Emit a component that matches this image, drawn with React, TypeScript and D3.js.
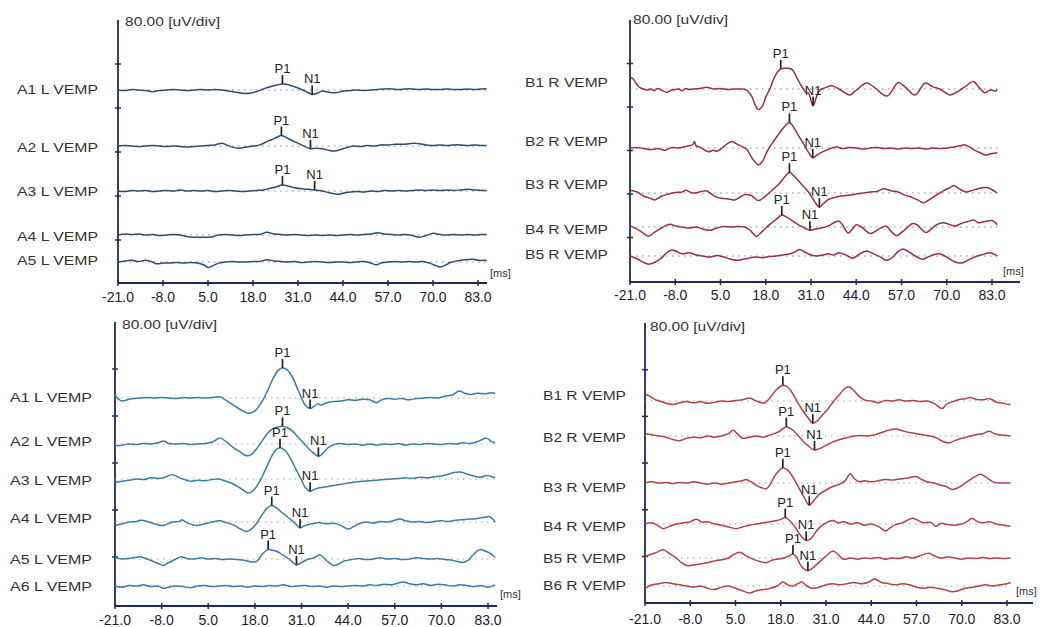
import React from 'react';
import * as d3 from 'd3';

// time axis ticks (ms)
const xTicks = [-21, -8, 5, 18, 31, 44, 57, 70, 83];
const scaleText = '80.00 [uV/div]';

// ---- top left: L VEMP, 5 runs. [ms, uV]
const tlNames = ['A1 L VEMP', 'A2 L VEMP', 'A3 L VEMP', 'A4 L VEMP', 'A5 L VEMP'];
const tlA1 = [[-21,0],[-19,-1],[-17,1],[-15,0],[-13,-1],[-11,-3],[-9,-1],[-7,0],[-5,1],[-3,0],[-1,-1],[1,0],[3,1],[5,0],[7,1],[9,0],[11,-2],[13,-4],[15,-6],[17,-6],[19,-3],[21,2],[23,6],[25,9],[26.5,11],[28,10],[30,6],[32,1],[34,-5],[35.1,-8],[36.5,-6],[38,-2],[40,-4],[42,-5],[44,-2],[46,-1],[48,0],[50,-1],[52,0],[54,1],[56,2],[58,2],[60,1],[62,2],[64,2],[66,1],[68,2],[70,1],[72,1],[74,2],[76,1],[78,1],[80,2],[82,1],[84,2],[85.5,2]];
const tlA2 = [[-21,0],[-19,1],[-17,0],[-15,-1],[-13,0],[-11,1],[-9,0],[-7,-1],[-5,0],[-3,-1],[-1,-2],[1,-1],[3,0],[5,1],[7,2],[9,5],[10,3],[12,-2],[14,-4],[16,-2],[18,0],[20,2],[22,8],[24,13],[26.2,19],[28,14],[30,8],[32,2],[34.6,-5],[36,-4],[38,-5],[40,-8],[41.6,-9],[43,-7],[45,-3],[47,0],[49,-1],[51,1],[53,0],[55,2],[57,2],[59,3],[61,3],[63,4],[64.5,5],[66,4],[68,2],[70,1],[72,2],[74,1],[76,2],[78,2],[80,1],[82,2],[84,1],[85.5,1]];
const tlA3 = [[-21,0],[-19,-1],[-17,1],[-15,0],[-13,1],[-11,-1],[-9,0],[-7,1],[-5,0],[-3,2],[-1,0],[1,1],[3,0],[5,1],[7,-1],[9,0],[11,1],[13,0],[15,-1],[17,0],[19,1],[21,2],[23,5],[24.5,7],[26.5,11],[28,9],[30,6],[32,4],[34,3],[35.8,2],[38,0],[40,-3],[42.6,-6],[44,-4],[46,-2],[48,-1],[50,-2],[52,0],[54,-1],[56,1],[58,0],[60,1],[62,0],[64,1],[66,2],[68,1],[70,2],[72,1],[74,2],[76,1],[78,2],[80,3],[82,2],[84,1],[85.5,1]];
const tlA4 = [[-21,0],[-19,2],[-17,1],[-15,2],[-13,0],[-11,1],[-9,-1],[-7,0],[-5,1],[-3,0],[-1,-3],[1,-4],[3,-4],[5,-4],[6.5,-3],[8,0],[10,1],[12,0],[14,-1],[16,0],[18,1],[20,1],[22,5],[24,2],[26,1],[28,0],[30,1],[32,0],[34,-1],[36,0],[38,-1],[40,0],[42,-1],[44,0],[46,1],[48,0],[50,1],[52,2],[54,4],[56,2],[58,1],[60,0],[62,1],[64,-1],[66,-4],[68,-1],[70,3],[72,1],[74,0],[76,1],[78,0],[80,1],[82,0],[84,1],[85.5,1]];
const tlA5 = [[-21,0],[-19,2],[-17,3],[-15,1],[-13,3],[-11,0],[-10,-3],[-8,-2],[-6,-2],[-4,-1],[-2,-2],[0,-1],[2,-2],[4,-6],[5,-10],[6,-8],[8,-2],[10,0],[12,1],[14,0],[16,0],[18,1],[20,1],[22,4],[24,2],[26,1],[28,0],[30,1],[32,-1],[34,0],[36,1],[38,0],[40,-1],[42,0],[44,0],[46,-1],[48,0],[50,1],[52,-2],[53.7,-5],[55,-2],[57,0],[59,1],[61,0],[63,1],[65,0],[67,1],[69,-2],[71,-7],[72,-9],[73.5,-6],[75,-1],[77,2],[79,4],[81.5,5],[83,3],[85.5,3]];
const tlP1 = [26.5, 26.2, 26.5, null, null];
const tlN1 = [35.1, 34.6, 35.8, null, null];

// ---- top right: R VEMP, 5 runs
const trNames = ['B1 R VEMP', 'B2 R VEMP', 'B3 R VEMP', 'B4 R VEMP', 'B5 R VEMP'];
const trB1 = [[-21,22],[-20,18],[-19,8],[-18,2],[-17,0],[-16,-2],[-15,0],[-14,-3],[-13,1],[-12,-2],[-10.5,-6],[-9,-2],[-8,-1],[-7,0],[-6,-3],[-5,1],[-4,-1],[-3,0],[-1,1],[1,3],[2,2],[3,0],[5,1],[7,-1],[9,0],[11,0],[12.5,-2],[14,-14],[15,-30],[15.9,-38],[17,-32],[18,-15],[19.2,0],[20.5,22],[22.3,37],[24,38],[25.5,36],[27,20],[28.5,3],[29.5,-6],[30.3,-8],[31.6,-31],[32.5,-16],[33.5,-2],[35,2],[37,6],[39,0],[41,-8],[42.2,-11],[44,-2],[47,11],[49,4],[52.8,-13],[56.1,12],[58,4],[60.9,-11],[63.8,11],[66,4],[68,0],[71,-11],[73,-5],[75,3],[77.7,14],[79,5],[81,-7],[82,-3],[83,-2],[84,-4],[84.5,-1]];
const trB2 = [[-21,0],[-19,1],[-17,-1],[-15,-3],[-13,-1],[-11,-4],[-9,1],[-7,0],[-5,3],[-3,6],[-2.5,12],[-2,4],[-1,2],[0,-2],[1.5,-7],[3,-4],[4,-6],[5.5,0],[7,8],[8.2,12],[9.5,8],[11,3],[12.5,-2],[14,-18],[15.9,-31],[17,-25],[18.5,-5],[20,10],[22,28],[23.5,40],[24.8,47],[26,38],[27.5,22],[29,6],[30.3,-8],[31.5,-18],[32.5,-14],[34,-8],[35.5,-4],[37,0],[38.5,2],[40,-1],[42,1],[44,0],[46,-2],[48,0],[50,1],[52,-1],[54,0],[56,-2],[58,0],[60,-1],[62,0],[64,-2],[66,0],[68,-1],[70,0],[72,2],[74,4],[75,6],[76.5,2],[78,-4],[80,-10],[81,-13],[82.5,-11],[84,-9],[84.5,-9]];
const trB3 = [[-21,5],[-19,2],[-17,-6],[-15,-10],[-14,-13],[-12,-6],[-10,-2],[-8,1],[-6,2],[-5,5],[-3,0],[-1,2],[1,4],[2,0],[4,-8],[6,-10],[8,-12],[9,-13],[10.5,-8],[12,-3],[14,-5],[15.9,-14],[17.5,-8],[20,6],[22,18],[23.5,30],[24.8,38],[26,32],[28,18],[30,4],[31.5,-10],[33.4,-26],[34.5,-20],[36,-12],[38,-8],[40,-5],[42,-4],[44,-2],[46,0],[48,2],[50,3],[51.8,8],[54,4],[56,2],[58,-4],[60,-8],[62,-14],[63.3,-18],[65,-12],[67,-4],[69,4],[71,10],[72,14],[73.5,8],[75.5,2],[77,4],[79,8],[81.5,10],[83,6],[84.5,0]];
const trB4 = [[-21,2],[-19,-4],[-17,-12],[-15.7,-17],[-14,-10],[-12,-2],[-9.5,5],[-8,2],[-6,0],[-4,-2],[-2,0],[0,-4],[2,-6],[4,-2],[6,1],[8,0],[10,1],[12,0],[13.5,-6],[15.4,-17],[17,-8],[19,4],[21,14],[22.6,22],[24,18],[26,10],[28,2],[30.7,-6],[32,-4],[34,-2],[36,2],[38.9,11],[40,4],[41.7,-11],[43,-3],[44,4],[45.5,0],[48,-12],[49.5,-8],[51,-2],[52.5,2],[54,-8],[55.6,-16],[57,-10],[58.5,-2],[60,6],[61.5,4],[64,-10],[65.5,-4],[67,4],[69,8],[71,4],[72.5,2],[74,6],[76,10],[77.7,13],[79,8],[81,10],[83,12],[84,8],[84.5,4]];
const trB5 = [[-21,0],[-19,-5],[-17,-12],[-15.7,-15],[-14,-12],[-12,-4],[-10.5,6],[-9,11],[-7.5,8],[-6,4],[-4,6],[-2,2],[0,0],[2,-2],[4,1],[6,-2],[8,-6],[9.7,-8],[11.5,-6],[13,-4],[15,-2],[17,-3],[19,-1],[21,0],[23,2],[25,4],[26.5,8],[27.8,12],[29.5,6],[31,2],[32.6,0],[34.5,2],[36,4],[37.5,2],[39,6],[41,2],[43,-4],[45,4],[47,9],[49,4],[51,-2],[52.7,-8],[54.5,-2],[56,8],[57.5,13],[59,8],[61,0],[63,-6],[64.5,-2],[66,2],[68,4],[70,-2],[72,-10],[74.3,-13],[76,-8],[78,-2],[80,2],[82.5,6],[84,2],[84.5,0]];
const trP1 = [22.3, 24.8, 24.8, 22.6, null];
const trN1 = [31.6, 31.5, 33.4, 30.7, null];

// ---- bottom left: L VEMP, 6 runs
const blNames = ['A1 L VEMP', 'A2 L VEMP', 'A3 L VEMP', 'A4 L VEMP', 'A5 L VEMP', 'A6 L VEMP'];
const blA1 = [[-21,5],[-20,-2],[-19,-5],[-17.5,-3],[-16,-1],[-14,0],[-12,1],[-10,0],[-8,1],[-6,0],[-4,-1],[-2,1],[0,0],[2,1],[4,0],[6,1],[8,2],[8.7,1],[10,-4],[12,-12],[14,-20],[16.2,-26],[18,-22],[20,-6],[21.5,12],[23,32],[24.5,47],[25.7,51],[27,48],[28.5,35],[30,14],[31,0],[32,-12],[33.4,-18],[34.5,-14],[35.5,-10],[36.5,-12],[38,-8],[40,-6],[42,-5],[44,-3],[46,-4],[48,-2],[50,-3],[52,-8],[53,-4],[55,-1],[57,-2],[59,-1],[61,-3],[63,-1],[65,0],[67,1],[69,0],[71,3],[73,5],[75,12],[76.5,8],[78,6],[80,8],[82,7],[84,9],[85,8]];
const blA2 = [[-21,-3],[-19,-2],[-17,0],[-15,-1],[-13,1],[-11,0],[-9,2],[-7.5,5],[-6,1],[-4,0],[-2,1],[0,-1],[2,0],[4,1],[6,3],[8.3,10],[10,4],[12,-6],[14,-14],[15.7,-20],[17,-18],[18.5,-8],[20,5],[21.5,18],[23,26],[24.5,29],[25.7,30],[27,28],[28.5,22],[30,12],[31.5,2],[33,-8],[34.5,-16],[35.7,-21],[37,-16],[38.5,-6],[40,-1],[42,1],[44,-1],[46,0],[48,-2],[50,0],[52,-2],[54,0],[56,-1],[58,1],[60,-2],[62,0],[64,-1],[66,1],[68,0],[70,-1],[72,1],[74,0],[76,2],[78,1],[80,4],[82.6,10],[84,4],[85,2]];
const blA3 = [[-21,-6],[-19,-4],[-17,-2],[-15,0],[-13,-1],[-11,2],[-9,1],[-7,3],[-5.5,7],[-4.7,7],[-3,2],[-1,-2],[0,-4],[2,-2],[4,-3],[6,-1],[8,0],[9,-2],[11,-6],[13,-12],[15,-20],[16.2,-24],[17.5,-20],[19,-8],[20.5,10],[22,30],[23.5,47],[25,53],[26.5,48],[28,34],[29.5,16],[31,-2],[32,-14],[33.4,-21],[34.5,-18],[36,-15],[38,-13],[40,-11],[42,-9],[44,-7],[46,-5],[48,-4],[50,-3],[52,-2],[54,-1],[56,0],[58,1],[60,2],[62,1],[64,3],[66,2],[68,4],[70,5],[72,8],[73.5,11],[75.2,12],[77,9],[79,5],[81,3],[82.5,6],[83.5,5],[85,2]];
const blA4 = [[-21,-6],[-19,-3],[-17,0],[-15,1],[-14,3],[-12,1],[-10,-3],[-8,-6],[-7,-5],[-5,0],[-3,1],[-2.4,4],[-1,-1],[1,-5],[2,-6],[4,-3],[6,0],[8.3,2],[10,-1],[12,-5],[14,-12],[15.7,-16],[17,-12],[18.5,-2],[20,12],[21.5,24],[22.7,28],[24,24],[26,14],[28,4],[29.5,-4],[30.6,-10],[32,-6],[34,-3],[36,-1],[38,-3],[40,-2],[42,-6],[44,-12],[45.5,-8],[47,-3],[49,0],[51,-2],[53,1],[55,0],[57,3],[58.5,5],[60,2],[62,0],[64,1],[66,-1],[68,1],[70,2],[72,1],[74,3],[76,4],[78,5],[80,6],[82,8],[83.5,9],[85,0]];
const blA5 = [[-21,2],[-19,0],[-17,1],[-15,3],[-14,4],[-12,0],[-10,-5],[-8,-10],[-7.5,-11],[-6,-6],[-4,0],[-2.5,4],[-1,1],[1,0],[3,2],[5,0],[7,1],[9,-1],[11,0],[13,-1],[15,-2],[17,-5],[18.5,-4],[20,8],[21.7,16],[23,15],[24.5,12],[26,6],[27.5,0],[29.6,-10],[31,-6],[33,0],[34.5,2],[36.2,7],[38,-3],[40,-11],[41.5,-8],[43,-3],[45,-1],[47,1],[49,-1],[51,0],[53,2],[55,0],[57,1],[59,-1],[61,0],[63,2],[65,1],[67,0],[69,1],[71,-1],[73,-2],[75,-5],[76,-6],[77.5,-2],[79,8],[80.8,16],[82,14],[83.5,10],[85,3]];
const blA6 = [[-21,0],[-19,-2],[-17,1],[-15,0],[-13,2],[-11,-1],[-9,0],[-7.5,-4],[-6,-2],[-4,0],[-2,-1],[0,-3],[2,0],[4,1],[6,-1],[8,0],[10,1],[12,-1],[14,0],[16,-2],[18,0],[20,-1],[22,1],[24,0],[26,2],[28,-1],[30,0],[32,1],[34,-1],[36,0],[38,-2],[40,0],[42,-1],[44,0],[46,1],[48,0],[50,2],[52,1],[54,3],[56,2],[58,5],[59.4,7],[61,4],[63,2],[65,4],[67,1],[69,3],[71,2],[73,0],[75,2],[77,1],[79,-1],[81,1],[83,-2],[85,2]];
const blP1 = [25.7, 25.7, 25.0, 22.7, 21.7, null];
const blN1 = [33.4, 35.7, 33.4, 30.6, 29.6, null];

// ---- bottom right: R VEMP, 6 runs
const brNames = ['B1 R VEMP', 'B2 R VEMP', 'B3 R VEMP', 'B4 R VEMP', 'B5 R VEMP', 'B6 R VEMP'];
const brB1 = [[-21,12],[-19.5,8],[-18,2],[-16.7,0],[-15,-4],[-13,-6],[-11,-3],[-9,-1],[-7,-3],[-5,-1],[-3,-4],[-1,-2],[1,0],[3,-1],[5,1],[7,2],[9,5],[11,0],[12.5,-3],[13.5,-3],[15,6],[16.5,18],[18.6,27],[20,24],[21.5,12],[23,-4],[24.5,-18],[26,-30],[27.2,-38],[28.5,-34],[30,-24],[31.5,-14],[33,-2],[35,12],[36.5,22],[37.7,24],[39,18],[40.5,8],[42,2],[44,0],[46,-3],[48,1],[50,0],[52,2],[54,0],[56,1],[58,-1],[60,0],[62,-4],[64.4,-13],[65.5,-6],[67,-2],[69,2],[71,4],[72.5,6],[74,3],[76,2],[78,4],[80,-2],[82,-4],[83.5,-6],[84,-5]];
const brB2 = [[-21,4],[-19,2],[-17,0],[-15,-2],[-13,-6],[-11,-8],[-9,-4],[-7,-2],[-5,-3],[-3,0],[-1,-2],[1,0],[3,4],[4.3,10],[5.5,4],[7,-4],[9,-2],[11,0],[13,-2],[15,2],[17,6],[18.5,12],[19.6,16],[21,12],[22.5,4],[24,-6],[25.5,-15],[27.7,-24],[29,-22],[31,-16],[33,-10],[35,-6],[37,-3],[39,0],[41,1],[43,0],[45,2],[47,6],[49,10],[51,12],[53,9],[55,6],[57,4],[59,2],[61,0],[63,-4],[64.5,-9],[66.3,-12],[68,-8],[70,-4],[72,-1],[74,2],[76,4],[77.8,8],[79.5,4],[81,2],[83,1],[84,0]];
const brB3 = [[-21,0],[-19,2],[-17,0],[-15,1],[-13,-1],[-11,1],[-9,0],[-7,2],[-5,0],[-3,-2],[-1,0],[1,-2],[3,0],[5,2],[7,4],[8,6],[9.5,2],[11,-4],[12.5,-8],[13.8,-10],[15,-2],[16.5,14],[18.6,26],[20,22],[21.5,10],[23,-6],[24.5,-22],[26.2,-38],[27.5,-30],[29,-20],[31,-12],[33,-6],[35,-2],[36.5,4],[38,16],[39,8],[40.5,2],[42,4],[44,2],[46,4],[48,6],[50,5],[52,7],[54,8],[56.8,11],[58.5,6],[60,2],[62,0],[64,-4],[65.5,-6],[67.3,-11],[69,-8],[71,0],[73,8],[75.4,15],[77,10],[79,2],[81,0],[83,0],[84,0]];
const brB4 = [[-21,0],[-19,2],[-17,-4],[-15.8,-8],[-14,-4],[-12,0],[-10,2],[-8,4],[-6.2,8],[-4.5,3],[-3,4],[-1,0],[1,-2],[3,-5],[5.2,-8],[7,-5],[9,-2],[11,0],[13,2],[15,4],[17,6],[18,8],[19.3,11],[20.5,6],[22,-4],[23.5,-18],[25.3,-28],[26.5,-26],[28,-14],[29.5,-4],[31,2],[33,6],[34.5,2],[36,4],[38,0],[40,2],[42,-2],[44,0],[46,-4],[48.2,-12],[49.5,-6],[51,-1],[53,2],[55.8,10],[57.5,6],[59,2],[61,3],[62.5,-4],[64,1],[66,-1],[68,-2],[70,0],[71.5,4],[73,10],[74.5,4],[76,2],[78,4],[80,0],[82,-2],[84,-4]];
const brB5 = [[-21,2],[-19.5,6],[-17.5,10],[-15.8,14],[-14,8],[-12,0],[-10.5,-8],[-9,-13],[-7,-12],[-5,-10],[-3,-8],[-1,-5],[1,-3],[3,0],[4.5,6],[6.2,10],[8,4],[10,-2],[12,-6],[13.8,-8],[15.5,-4],[17,-2],[19,0],[20.5,4],[21.5,7],[22.5,2],[23.5,-10],[24.5,-18],[25.8,-22],[27,-18],[28.5,-10],[30,-2],[31.5,6],[33,12],[34.5,6],[36,-2],[38,0],[40,-2],[42,0],[44,-1],[46,1],[48,-2],[50,0],[52,-1],[54,2],[56,0],[58,4],[60.6,8],[62,4],[64,0],[66,2],[68,0],[70,-2],[72,0],[74,-1],[76,1],[78,-1],[80,0],[82,-1],[84,0]];
const brB6 = [[-21,-4],[-19,2],[-17,4],[-15,6],[-13,4],[-11,2],[-9,0],[-7,-2],[-5,0],[-3,-4],[-1,-6],[1,-2],[3,0],[5,-4],[7,-8],[9,-12],[11,-8],[13,-6],[15,-4],[17,0],[18.6,7],[20,2],[21.5,0],[23,4],[24,7],[25.5,0],[27,-4],[29,-2],[31,2],[33,4],[35,2],[37,4],[39,6],[41,4],[43,6],[45,12],[47,6],[49,4],[51,2],[53,4],[55,2],[57,-2],[59,-4],[61,-2],[63,-4],[65,-6],[67.3,-10],[69,-8],[71,-4],[73,-2],[75,0],[77,2],[79,0],[81,2],[83,4],[84,6]];
const brP1 = [18.6, 19.6, 18.6, 19.3, 21.5, null];
const brN1 = [27.2, 27.7, 26.2, 25.3, 25.8, null];

// layout for the four recordings
const panels = [
  {
    traces: [tlA1, tlA2, tlA3, tlA4, tlA5], names: tlNames, p1: tlP1, n1: tlN1,
    color: '#2c4d73', dots: '#7d8590', x0: 118, x83: 478, axisEnd: 487, top: 20, axisY: 283, div: 44,
    baselines: [90, 146, 191, 235, 262], labelYs: [90, 148, 192, 237, 261],
    labelLeft: 17, labelRight: 98, tickLabelBase: 302, msX: 490, msY: 273, scaleX: 125, scaleY: 22,
  },
  {
    traces: [trB1, trB2, trB3, trB4, trB5], names: trNames, p1: trP1, n1: trN1,
    color: '#9a2f40', dots: '#808080', x0: 630, x83: 992, axisEnd: 1020, top: 20, axisY: 282, div: 43.5,
    baselines: [89, 148, 193, 227, 256], labelYs: [83, 142, 185, 230, 255],
    labelLeft: 525, labelRight: 608, tickLabelBase: 300, msX: 1003, msY: 271, scaleX: 633, scaleY: 20,
  },
  {
    traces: [blA1, blA2, blA3, blA4, blA5, blA6], names: blNames, p1: blP1, n1: blN1,
    color: '#3a7ca6', dots: '#a3a37a', x0: 115, x83: 488, axisEnd: 497, top: 322, axisY: 606, div: 47,
    baselines: [398, 444, 479, 522, 559, 586], labelYs: [398, 442, 481, 519, 560, 587],
    labelLeft: 10, labelRight: 92, tickLabelBase: 625, msX: 500, msY: 594, scaleX: 122, scaleY: 325,
  },
  {
    traces: [brB1, brB2, brB3, brB4, brB5, brB6], names: brNames, p1: brP1, n1: brN1,
    color: '#b3404b', dots: '#a3a37a', x0: 645, x83: 1007, axisEnd: 1033, top: 323, axisY: 603, div: 46.7,
    baselines: [401, 436, 483, 524, 558, 586], labelYs: [396, 438, 488, 527, 559, 586],
    labelLeft: 543, labelRight: 626, tickLabelBase: 624, msX: 1016, msY: 591, scaleX: 650, scaleY: 327,
  },
];

const axisColor = '#1f2b57';
const font = 'Liberation Sans, Arial, sans-serif';

function valueAt(trace: number[][], t: number) {
  for (let i = 0; i < trace.length - 1; i++) {
    const [t0, v0] = trace[i];
    const [t1, v1] = trace[i + 1];
    if (t >= t0 && t <= t1) return v0 + ((v1 - v0) * (t - t0)) / (t1 - t0);
  }
  return 0;
}

function Panel({ p }: { p: any }) {
  const x = d3.scaleLinear().domain([-21, 83]).range([p.x0, p.x83]);
  const amp = d3.scaleLinear().domain([0, 80]).range([0, -p.div]);
  const yTicks = d3.range(1, 7).map(k => p.top + k * p.div).filter(v => v < p.axisY - 10);

  const marker = (t: number | null, label: string, base: number, trace: number[][], key: string) => {
    if (t == null) return null;
    const cy = base + amp(valueAt(trace, t));
    return (
      <g key={key}>
        <line x1={x(t)} x2={x(t)} y1={cy} y2={cy - 9} stroke="#222" strokeWidth={1.7} />
        <text x={x(t)} y={cy - 11} textAnchor="middle" fontSize={13} fill="#222" fontFamily={font}>{label}</text>
      </g>
    );
  };

  return (
    <g>
      {/* axes */}
      <line x1={p.x0} x2={p.x0} y1={p.top} y2={p.axisY} stroke={axisColor} strokeWidth={1.8} />
      <line x1={p.x0} x2={p.axisEnd} y1={p.axisY} y2={p.axisY} stroke={axisColor} strokeWidth={1.8} />
      {yTicks.map((v, i) => (
        <line key={'yt' + i} x1={p.x0 - 3} x2={p.x0 + 3} y1={v} y2={v} stroke={axisColor} strokeWidth={1.5} />
      ))}
      {xTicks.map(t => (
        <g key={'xt' + t}>
          <line x1={x(t)} x2={x(t)} y1={p.axisY - 3} y2={p.axisY + 3} stroke={axisColor} strokeWidth={1.5} />
          <text x={x(t)} y={p.tickLabelBase} textAnchor="middle" fontSize={14} fill="#1c1c2c" fontFamily={font}>{t.toFixed(1)}</text>
        </g>
      ))}
      <text x={p.scaleX} y={p.scaleY + 4} fontSize={12} fill="#333" fontFamily={font} textLength={95} lengthAdjust="spacingAndGlyphs">{scaleText}</text>
      <text x={p.msX} y={p.msY + 4} fontSize={11} fill="#333" fontFamily={font}>[ms]</text>

      {p.traces.map((tr: number[][], i: number) => {
        const base = p.baselines[i];
        const line = d3.line<number[]>().x(d => x(d[0])).y(d => base + amp(d[1])).curve(d3.curveCatmullRom.alpha(0.5));
        return (
          <g key={'tr' + i}>
            <line x1={p.x0} x2={x(tr[tr.length - 1][0])} y1={base} y2={base} stroke={p.dots} strokeWidth={1} strokeDasharray="1.5 4.5" />
            <path d={line(tr) || ''} fill="none" stroke={p.color} strokeWidth={1.5} />
            <text x={p.labelRight} y={p.labelYs[i] + 4} textAnchor="end" fontSize={12} fill="#333" fontFamily={font}
              textLength={p.labelRight - p.labelLeft} lengthAdjust="spacingAndGlyphs">{p.names[i]}</text>
            {marker(p.p1[i], 'P1', base, tr, 'p' + i)}
            {marker(p.n1[i], 'N1', base, tr, 'n' + i)}
          </g>
        );
      })}
    </g>
  );
}

export default function App() {
  return (
    <svg width={1040} height={627} style={{ position: 'absolute', left: 0, top: 0, background: '#fff' }}>
      <rect width={1040} height={627} fill="#fff" />
      {panels.map((p, i) => <Panel key={i} p={p} />)}
    </svg>
  );
}
